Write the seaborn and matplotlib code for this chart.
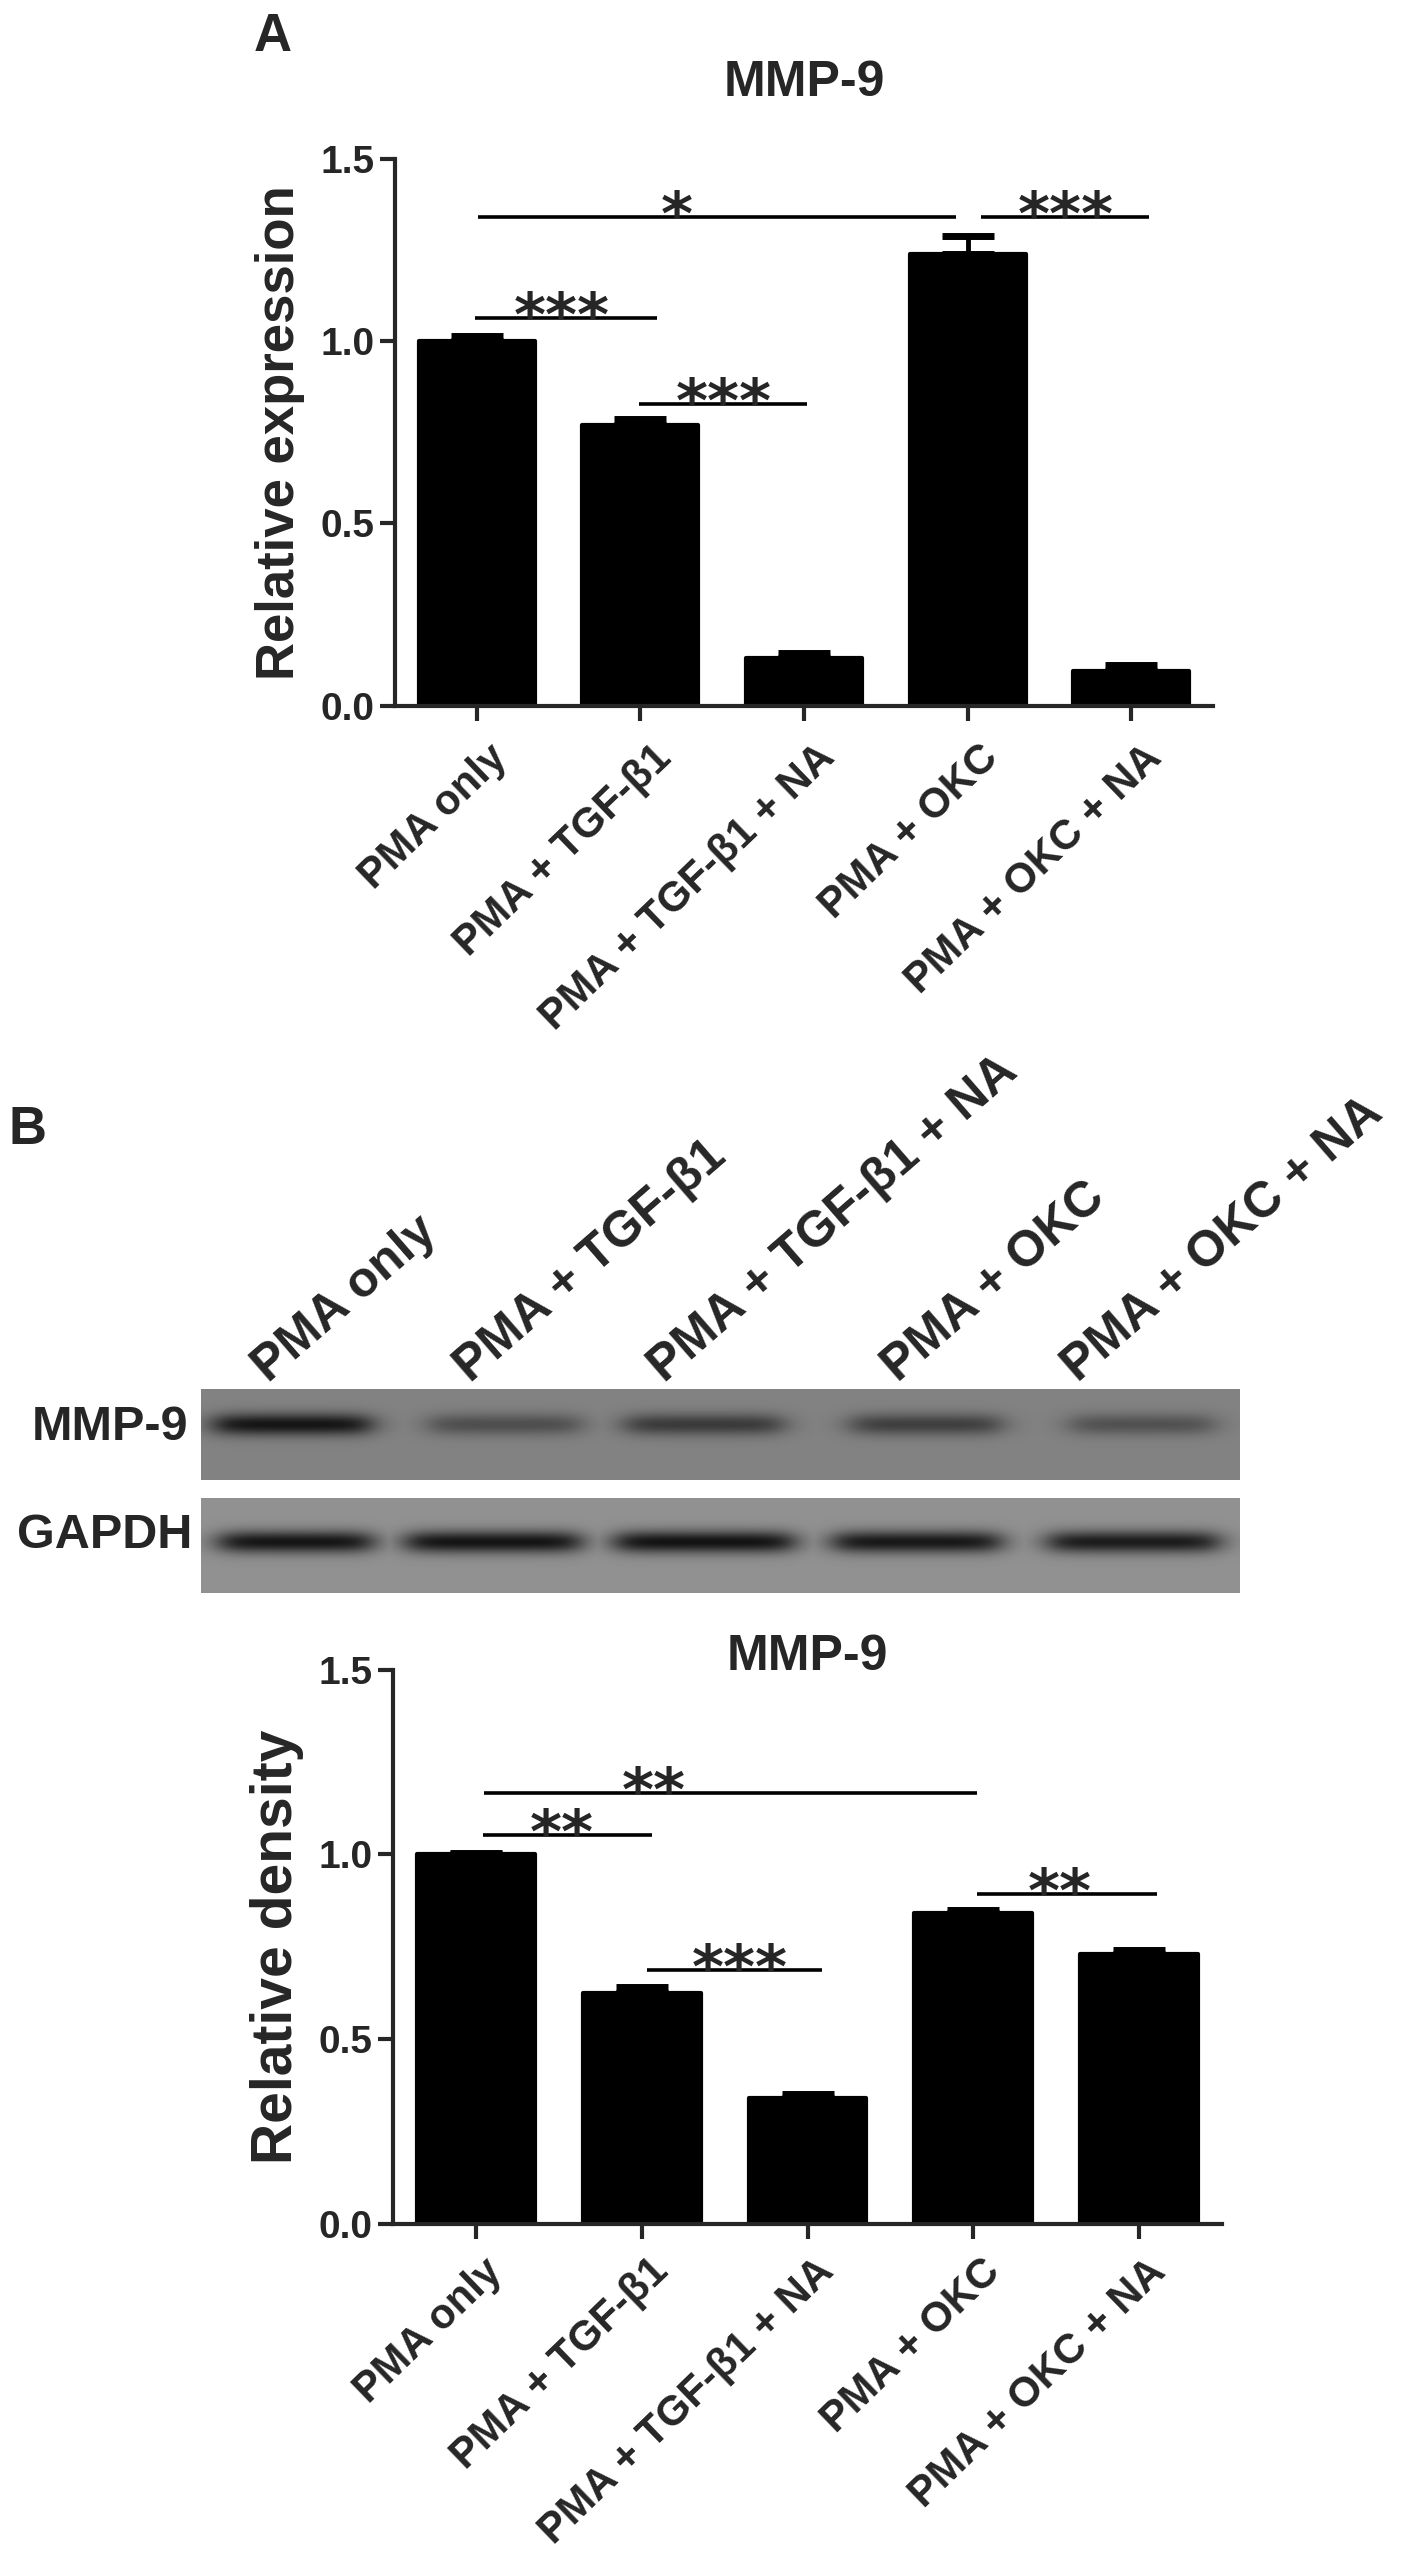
import matplotlib
matplotlib.use('Agg')
import matplotlib.pyplot as plt
import matplotlib.transforms as mtransforms
from matplotlib.ticker import FormatStrFormatter
import numpy as np
import pandas as pd
import seaborn as sns

groups = ['PMA only', 'PMA + TGF-β1', 'PMA + TGF-β1 + NA', 'PMA + OKC', 'PMA + OKC + NA']

# A: relative expression, mean and sem
expr_mean = [1.00, 0.77, 0.13, 1.24, 0.095]
expr_sem = [0.013, 0.015, 0.015, 0.05, 0.015]

# B: relative density, mean and sem
dens_mean = [1.00, 0.625, 0.34, 0.84, 0.73]
dens_sem = [0.004, 0.015, 0.01, 0.008, 0.01]

# significance bars: (x start, x end, height, stars, star x)
sig_expr = [(-0.01, 1.10, 1.064, '***', 0.52),
            (0.99, 2.02, 0.828, '***', 1.51),
            (0.01, 2.93, 1.342, '*', 1.22),
            (3.08, 4.11, 1.342, '***', 3.60)]
sig_dens = [(0.04, 1.06, 1.052, '**', 0.52),
            (0.05, 3.02, 1.166, '**', 1.07),
            (1.03, 2.09, 0.687, '***', 1.59),
            (3.02, 4.11, 0.891, '**', 3.52)]

# blot band darkness per lane
mmp9_band = [0.95, 0.45, 0.62, 0.58, 0.42]
gapdh_band = [0.95, 0.96, 0.97, 0.93, 0.90]

W, H = 1417, 2560
sns.set_style('ticks')
plt.rcParams['font.family'] = ['Liberation Sans', 'DejaVu Sans']
plt.rcParams['font.weight'] = 'bold'

fig = plt.figure(figsize=(W / 100, H / 100), dpi=100)


def box(x0, y0, x1, y1):
    return [x0 / W, 1 - y1 / H, (x1 - x0) / W, (y1 - y0) / H]


def bar_panel(ax, mean, sem, ylabel, ylab_size, title, title_pad, sig,
              lab_dx, lab_pad):
    df = pd.DataFrame({'group': groups, 'value': mean})
    sns.barplot(data=df, x='group', y='value', order=groups, color='black',
                saturation=1, width=0.71, errorbar=None, edgecolor='black',
                linewidth=3, ax=ax)
    for p in ax.patches:
        p.set_joinstyle('round')
    ax.errorbar(np.arange(len(groups)), mean, yerr=[np.zeros(len(mean)), sem],
                fmt='none', ecolor='black', elinewidth=3.5, capsize=19,
                capthick=5)
    ax.set_xlim(-0.5, 4.5)
    ax.set_ylim(0, 1.5)
    ax.set_yticks([0, 0.5, 1.0, 1.5])
    ax.yaxis.set_major_formatter(FormatStrFormatter('%.1f'))
    sns.despine(ax=ax)
    for s in ['left', 'bottom']:
        ax.spines[s].set_linewidth(3)
    ax.tick_params(width=3, length=11, labelsize=28, pad=4)
    ax.tick_params(axis='x', labelsize=30, pad=lab_pad)
    ax.set_xlabel('')
    ax.set_ylabel(ylabel, fontsize=ylab_size, fontweight='bold')
    ax.yaxis.set_label_coords(-0.14, 0.5)
    ax.yaxis.label.set_va('center')
    shift = mtransforms.ScaledTranslation(lab_dx / 100, 0, fig.dpi_scale_trans)
    for lab in ax.get_xticklabels():
        lab.set_rotation(44)
        lab.set_ha('right')
        lab.set_va('top')
        lab.set_rotation_mode('anchor')
        lab.set_transform(lab.get_transform() + shift)
    ax.set_title(title, fontsize=36, fontweight='bold', y=1.0, pad=title_pad)
    for x0, x1, y, txt, xt in sig:
        ax.plot([x0, x1], [y, y], color='black', lw=2.6,
                solid_capstyle='butt', clip_on=False)
        ax.annotate(txt, (xt, y), xytext=(0, -13), textcoords='offset points',
                    ha='center', va='baseline', fontsize=44,
                    fontfamily='DejaVu Sans', fontweight='bold',
                    annotation_clip=False)


ax1 = fig.add_axes(box(395, 159, 1213, 705.5))
bar_panel(ax1, expr_mean, expr_sem, 'Relative expression', 38, 'MMP-9', 45,
          sig_expr, 11, 12)

ax2 = fig.add_axes(box(393, 1669.5, 1222, 2223.5))
bar_panel(ax2, dens_mean, dens_sem, 'Relative density', 41, 'MMP-9', 0,
          sig_dens, 7, 9)


# western blot panels
def blot_image(levels, spans, height, yc, sy, bg):
    xs = np.arange(201, 1240)[None, :]
    ys = np.arange(height)[:, None]
    dark = np.zeros((height, xs.shape[1]))
    prof = np.exp(-((ys - yc) / sy) ** 2)
    for lvl, (x0, x1) in zip(levels, spans):
        edge = 1 / (1 + np.exp(-(xs - x0) / 9)) / (1 + np.exp((xs - x1) / 9))
        dark = np.maximum(dark, lvl * edge * prof)
    return bg * (1 - dark) + 15 * dark


mmp9_span = [(214, 370), (429, 580), (625, 782), (851, 1000), (1070, 1213)]
gapdh_span = [(219, 372), (406, 580), (615, 793), (833, 1000), (1048, 1218)]

for (y0, y1), lv, sp, yc, sy, bg in [((1389, 1480), mmp9_band, mmp9_span, 35, 11, 130),
                                     ((1498, 1593), gapdh_band, gapdh_span, 44, 11, 145)]:
    axb = fig.add_axes(box(201, y0, 1240, y1))
    axb.imshow(blot_image(lv, sp, y1 - y0, yc, sy, bg), cmap='gray',
               vmin=0, vmax=255, aspect='auto', interpolation='bilinear')
    axb.set_xticks([])
    axb.set_yticks([])
    for s in axb.spines.values():
        s.set_visible(False)

fig.text(188 / W, 1 - 1428 / H, 'MMP-9', ha='right', va='center', fontsize=35)
fig.text(192 / W, 1 - 1535 / H, 'GAPDH', ha='right', va='center', fontsize=35)

lane_x = [268, 470, 664, 898, 1078]
for x, g in zip(lane_x, groups):
    fig.text(x / W, 1 - 1383 / H, g, rotation=41, rotation_mode='anchor',
             ha='left', va='baseline', fontsize=36)

fig.text(254 / W, 1 - 12 / H, 'A', ha='left', va='top', fontsize=38)
fig.text(8 / W, 1 - 1105 / H, 'B', ha='left', va='top', fontsize=38)

fig.savefig('out.png', dpi=100, facecolor='white')
